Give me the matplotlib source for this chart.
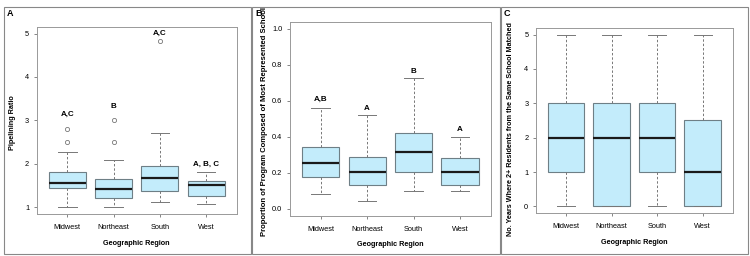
import matplotlib
matplotlib.use('Agg')
import matplotlib.pyplot as plt
from matplotlib.patches import Rectangle

plt.rcParams['font.family'] = ['Liberation Sans', 'DejaVu Sans']

# Datos
regiones = ['Midwest', 'Northeast', 'South', 'West']

# Panel A: Pipelining Ratio
a_whislo = [1.00, 1.00, 1.12, 1.06]
a_q1 = [1.43, 1.22, 1.36, 1.25]
a_med = [1.55, 1.42, 1.67, 1.51]
a_q3 = [1.80, 1.64, 1.94, 1.61]
a_whishi = [2.27, 2.08, 2.70, 1.81]
a_fliers = [[2.5, 2.8], [2.5, 3.0], [4.82], []]
a_letras = ['A,C', 'B', 'A,C', 'A, B, C']
a_letras_y = [3.15, 3.33, 5.0, 1.98]

# Panel B: proporcion de la escuela mas representada
b_whislo = [0.081, 0.042, 0.101, 0.101]
b_q1 = [0.175, 0.134, 0.202, 0.131]
b_med = [0.255, 0.202, 0.318, 0.202]
b_q3 = [0.344, 0.290, 0.423, 0.285]
b_whishi = [0.561, 0.522, 0.727, 0.401]
b_letras = ['A,B', 'A', 'B', 'A']
b_letras_y = [0.607, 0.56, 0.763, 0.441]

# Panel C: anos con 2+ residentes de la misma escuela
c_whislo = [0, 0, 0, 0]
c_q1 = [1, 0, 1, 0]
c_med = [2, 2, 2, 1]
c_q3 = [3, 3, 3, 2.5]
c_whishi = [5, 5, 5, 5]

W, H = 750, 256
fig = plt.figure(figsize=(7.5, 2.56), dpi=100)

def eje(l, t, r, b):
    return fig.add_axes([l / W, 1 - b / H, (r - l) / W, (b - t) / H])

def stats(whislo, q1, med, q3, whishi, fliers=None):
    out = []
    for i in range(len(med)):
        out.append(dict(whislo=whislo[i], q1=q1[i], med=med[i], q3=q3[i],
                        whishi=whishi[i],
                        fliers=fliers[i] if fliers else []))
    return out

def dibujar(ax, st, ylim, yticks, yticklabels):
    ax.bxp(st, positions=[1, 2, 3, 4], widths=0.8, capwidths=0.4,
           patch_artist=True, showfliers=True,
           boxprops=dict(facecolor='#c3ecfb', edgecolor='#6e7f86', linewidth=0.8),
           medianprops=dict(color='#1a1a1a', linewidth=1.6),
           whiskerprops=dict(color='#777777', linewidth=0.7, linestyle=(0, (2.5, 2))),
           capprops=dict(color='#777777', linewidth=0.7),
           flierprops=dict(marker='o', markerfacecolor='none',
                           markeredgecolor='#777777', markersize=3, markeredgewidth=0.6))
    ax.set_xlim(0.34, 4.66)
    ax.set_ylim(*ylim)
    ax.set_xticks([1, 2, 3, 4])
    ax.set_xticklabels(regiones)
    ax.set_yticks(yticks)
    ax.set_yticklabels(yticklabels)
    ax.tick_params(axis='both', labelsize=5.3, length=2.5, width=0.5,
                   color='#555555', pad=3)
    ax.tick_params(axis='x', pad=4.5)
    for s in ax.spines.values():
        s.set_color('#999999')
        s.set_linewidth(0.7)

axA = eje(36.7, 26.7, 236.7, 214)
dibujar(axA, stats(a_whislo, a_q1, a_med, a_q3, a_whishi, a_fliers),
        (0.84, 5.16), [1, 2, 3, 4, 5], ['1', '2', '3', '4', '5'])
for i, (txt, y) in enumerate(zip(a_letras, a_letras_y)):
    axA.text(i + 1, y, txt, ha='center', va='center', fontsize=5.8, fontweight='bold')

axB = eje(290, 21.7, 490.7, 216)
dibujar(axB, stats(b_whislo, b_q1, b_med, b_q3, b_whishi),
        (-0.04, 1.04), [0, 0.2, 0.4, 0.6, 0.8, 1.0],
        ['0.0', '0.2', '0.4', '0.6', '0.8', '1.0'])
for i, (txt, y) in enumerate(zip(b_letras, b_letras_y)):
    axB.text(i + 1, y, txt, ha='center', va='center', fontsize=5.8, fontweight='bold')

axC = eje(536, 27.7, 732.7, 213.3)
dibujar(axC, stats(c_whislo, c_q1, c_med, c_q3, c_whishi),
        (-0.2, 5.2), [0, 1, 2, 3, 4, 5], ['0', '1', '2', '3', '4', '5'])

# Etiquetas de ejes
fig.text(136.7 / W, 1 - 243.5 / H, 'Geographic Region', ha='center', va='center',
         fontsize=5.2, fontweight='bold')
fig.text(390.3 / W, 1 - 244 / H, 'Geographic Region', ha='center', va='center',
         fontsize=5.2, fontweight='bold')
fig.text(634.3 / W, 1 - 242 / H, 'Geographic Region', ha='center', va='center',
         fontsize=5.2, fontweight='bold')
fig.text(13 / W, 1 - 123 / H, 'Pipelining Ratio', rotation=90, ha='center',
         va='center', fontsize=5.2, fontweight='bold')
fig.text(265 / W, 1 - 121 / H, 'Proportion of Program Composed of Most Represented School',
         rotation=90, ha='center', va='center', fontsize=5.5, fontweight='bold')
fig.text(510.5 / W, 1 - 129 / H, 'No. Years Where 2+ Residents from the Same School Matched',
         rotation=90, ha='center', va='center', fontsize=5.2, fontweight='bold')

# Marcos de cada panel y letras
for (l, r), letra in zip([(4, 251), (252, 500), (500.5, 748)], ['A', 'B', 'C']):
    fig.patches.append(Rectangle((l / W, 2 / H), (r - l) / W, (249 - 2) / H,
                                 transform=fig.transFigure, fill=False,
                                 edgecolor='#888888', linewidth=0.8))
    fig.text((l + 3) / W, 1 - 13 / H, letra, ha='left', va='center',
             fontsize=6.5, fontweight='bold')

plt.savefig('out.png', dpi=100)
